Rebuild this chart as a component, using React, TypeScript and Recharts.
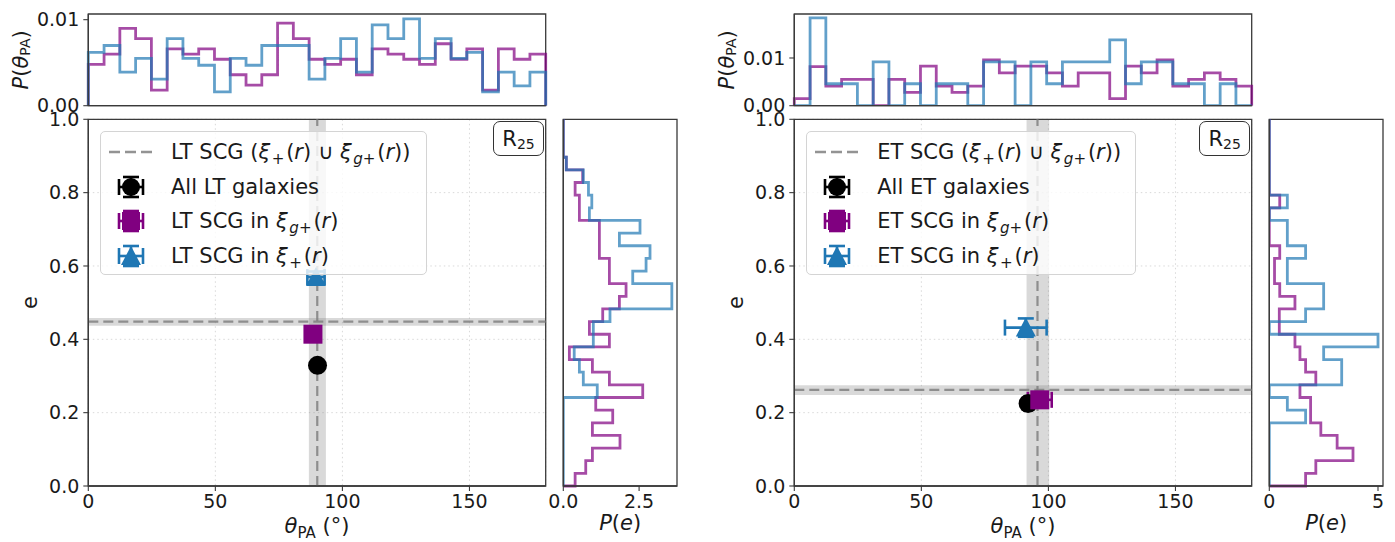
import React from 'react';
import {
  ScatterChart,
  Scatter,
  LineChart,
  Line,
  XAxis,
  YAxis,
  CartesianGrid,
  ReferenceLine,
  ReferenceArea,
  ErrorBar,
} from 'recharts';

// ---------------------------------------------------------------------------
// Data
// ---------------------------------------------------------------------------

// Position-angle histograms: 29 equal bins over [0, 180] deg, density P(theta_PA)
const thetaTicks = [0, 50, 100, 150];
const ltThetaGplus = [
  0.0048, 0.006, 0.009, 0.0078, 0.0018, 0.0066, 0.006, 0.0066, 0.0054, 0.0036,
  0.0024, 0.0036, 0.0096, 0.0078, 0.0054, 0.0048, 0.0054, 0.0036, 0.0066, 0.006,
  0.0054, 0.0048, 0.0072, 0.0054, 0.0066, 0.0018, 0.0066, 0.0054, 0.006,
];
const ltThetaPlus = [
  0.0062, 0.007, 0.0039, 0.0055, 0.0031, 0.0078, 0.0055, 0.0047, 0.0016, 0.0055,
  0.0047, 0.007, 0.007, 0.007, 0.0031, 0.0055, 0.0078, 0.0039, 0.0094, 0.0078,
  0.0101, 0.0055, 0.0078, 0.0055, 0.0062, 0.0016, 0.0039, 0.0023, 0.0039,
];
const etThetaGplus = [
  0.0015, 0.0082, 0.0041, 0.0055, 0.0055, 0.0, 0.0055, 0.0028, 0.0083, 0.0041,
  0.0028, 0.0041, 0.0096, 0.0069, 0.0083, 0.0083, 0.0069, 0.0041, 0.0069, 0.0069,
  0.0015, 0.0083, 0.0069, 0.0096, 0.0041, 0.0055, 0.0069, 0.0055, 0.0041,
];
const etThetaPlus = [
  0.0, 0.0184, 0.0046, 0.0046, 0.0, 0.0092, 0.0, 0.0046, 0.0, 0.0046,
  0.0046, 0.0, 0.0092, 0.0092, 0.0, 0.0092, 0.0046, 0.0092, 0.0092, 0.0092,
  0.0138, 0.0046, 0.0092, 0.0092, 0.0046, 0.0046, 0.0, 0.0046, 0.0,
];

// Ellipticity histograms: 29 equal bins over [0, 1], density P(e), lowest bin first
const eTicks = [0, 0.2, 0.4, 0.6, 0.8, 1.0];
const ltEGplus = [
  0.39, 0.74, 0.96, 1.87, 0.96, 1.63, 1.07, 2.62, 1.52, 0.96,
  0.2, 1.52, 0.86, 1.3, 1.85, 2.07, 1.52, 1.52, 1.19, 1.19,
  1.19, 0.53, 0.53, 0.39, 0.64, 0.1, 0, 0, 0,
];
const ltEPlus = [
  0, 0, 0, 0, 0, 0, 0, 1.12, 0.66, 0.53,
  0.36, 0.99, 0.99, 1.54, 3.58, 3.58, 2.29, 2.73, 2.86, 1.85,
  2.53, 0.86, 0.94, 0.83, 0.66, 0.1, 0, 0, 0,
];
const etEGplus = [
  1.67, 2.14, 3.85, 3.12, 2.37, 1.9, 1.9, 1.41, 2.14, 1.67,
  1.41, 1.18, 0.46, 0.46, 1.18, 0.48, 0.24, 0.24, 0.48, 0,
  0, 0, 0.48, 0, 0, 0, 0, 0, 0,
];
const etEPlus = [
  0, 0, 0, 0, 0, 1.67, 0.83, 0, 3.33, 3.33,
  2.5, 5.0, 0, 1.67, 2.5, 2.5, 0.83, 0.83, 1.67, 0.83,
  0.83, 0, 0.83, 0, 0, 0, 0, 0, 0,
];

// Mean orientation / ellipticity with uncertainties
const ltAll = [{ theta: 90.2, e: 0.329, dTheta: 1.2, dE: 0.006 }];
const ltGplus = [{ theta: 88.4, e: 0.414, dTheta: 2.5, dE: 0.012 }];
const ltPlus = [{ theta: 89.6, e: 0.57, dTheta: 3.4, dE: 0.015 }];
const etAll = [{ theta: 92.0, e: 0.225, dTheta: 1.5, dE: 0.006 }];
const etGplus = [{ theta: 96.6, e: 0.235, dTheta: 4.7, dE: 0.012 }];
const etPlus = [{ theta: 91.1, e: 0.432, dTheta: 8.2, dE: 0.025 }];

// Combined SCG sample (xi_+ U xi_g+): mean and 1-sigma band
const ltUnion = { theta: 90.1, thetaLo: 86.8, thetaHi: 93.5, e: 0.448, eLo: 0.437, eHi: 0.458 };
const etUnion = { theta: 95.7, thetaLo: 91.4, thetaHi: 100.3, e: 0.262, eLo: 0.248, eHi: 0.275 };

// ---------------------------------------------------------------------------
// Styling
// ---------------------------------------------------------------------------
const FONT = '"DejaVu Sans", Verdana, sans-serif';
const INK = '#1a1a1a';
const SPINE = '#3a3a3a';
const PURPLE = '#800080';
const BLUE = '#1f77b4';
const GRAY = '#808080';
const tickStyle = { fill: INK, fontSize: 19, fontFamily: FONT };
const axisLine = { stroke: SPINE, strokeWidth: 1.3 };
const tickLine = { stroke: SPINE, strokeWidth: 1.1 };

// Step outline of a theta histogram (bins along x)
function thetaOutline(a: number[], b: number[]) {
  const w = 180 / a.length;
  const pts: { x: number; a: number; b: number }[] = [{ x: 0, a: 0, b: 0 }];
  a.forEach((_, i) => {
    pts.push({ x: i * w, a: a[i], b: b[i] });
    pts.push({ x: (i + 1) * w, a: a[i], b: b[i] });
  });
  pts.push({ x: 180, a: 0, b: 0 });
  return pts;
}

// Step outline of an ellipticity histogram (bins along y)
function eOutline(a: number[], b: number[]) {
  const w = 1 / a.length;
  const pts: { e: number; a: number; b: number }[] = [{ e: 0, a: 0, b: 0 }];
  a.forEach((_, i) => {
    pts.push({ e: i * w, a: a[i], b: b[i] });
    pts.push({ e: (i + 1) * w, a: a[i], b: b[i] });
  });
  pts.push({ e: 1, a: 0, b: 0 });
  return pts;
}

// ---------------------------------------------------------------------------
// Axis labels
// ---------------------------------------------------------------------------
const ThetaLabel = (props: any) => {
  const vb = props.viewBox;
  const x = vb.x + vb.width / 2;
  const y = vb.y + 47;
  return (
    <text x={x} y={y} textAnchor="middle" fontSize={21} fontFamily={FONT} fill={INK}>
      <tspan fontStyle="italic">θ</tspan>
      <tspan fontSize={15} dy={5}>PA</tspan>
      <tspan dy={-5}>{'\u00a0(°)'}</tspan>
    </text>
  );
};

const ELabel = (props: any) => {
  const vb = props.viewBox;
  const x = vb.x + 30;
  const y = vb.y + vb.height / 2;
  return (
    <text
      x={x}
      y={y}
      transform={`rotate(-90 ${x} ${y})`}
      textAnchor="middle"
      dominantBaseline="central"
      fontSize={21}
      fontFamily={FONT}
      fill={INK}
    >
      e
    </text>
  );
};

const PThetaLabel = (props: any) => {
  const vb = props.viewBox;
  const x = vb.x + 21;
  const y = vb.y + vb.height / 2;
  return (
    <text
      x={x}
      y={y}
      transform={`rotate(-90 ${x} ${y})`}
      textAnchor="middle"
      dominantBaseline="central"
      fontSize={21}
      fontFamily={FONT}
      fill={INK}
    >
      <tspan fontStyle="italic">P</tspan>
      <tspan>(</tspan>
      <tspan fontStyle="italic">θ</tspan>
      <tspan fontSize={14} dy={4}>PA</tspan>
      <tspan dy={-4}>)</tspan>
    </text>
  );
};

const PELabel = (props: any) => {
  const vb = props.viewBox;
  const x = vb.x + vb.width / 2;
  const y = vb.y + 44;
  return (
    <text x={x} y={y} textAnchor="middle" fontSize={21} fontFamily={FONT} fill={INK}>
      <tspan fontStyle="italic">P</tspan>
      <tspan>(</tspan>
      <tspan fontStyle="italic">e</tspan>
      <tspan>)</tspan>
    </text>
  );
};

// ---------------------------------------------------------------------------
// Markers
// ---------------------------------------------------------------------------
const CircleMark = (p: any) => <circle cx={p.cx} cy={p.cy} r={9.5} fill="#000" />;
const SquareMark = (p: any) => (
  <rect x={p.cx - 9.5} y={p.cy - 9.5} width={19} height={19} fill={PURPLE} />
);
const TriangleMark = (p: any) => (
  <polygon
    points={`${p.cx},${p.cy - 10} ${p.cx + 10},${p.cy + 9} ${p.cx - 10},${p.cy + 9}`}
    fill={BLUE}
  />
);

// ---------------------------------------------------------------------------
// Panels
// ---------------------------------------------------------------------------
type Union = typeof ltUnion;
type Pt = { theta: number; e: number; dTheta: number; dE: number };

function MainPanel({ x0, all, gplus, plus, union }: { x0: number; all: Pt[]; gplus: Pt[]; plus: Pt[]; union: Union }) {
  // ErrorBar "width" is the half-length of each cap
  const errProps = { width: 8, strokeWidth: 2.6 };
  return (
    <div style={{ position: 'absolute', left: x0, top: 110 }}>
      <ScatterChart width={560} height={432} margin={{ top: 9.3, right: 14.3, bottom: 0, left: 0 }}>
        <CartesianGrid stroke="#d9d9d9" strokeDasharray="1.5 3" />
        <XAxis
          type="number"
          dataKey="theta"
          domain={[0, 180]}
          ticks={thetaTicks}
          interval={0}
          height={56}
          tick={tickStyle}
          tickSize={5}
          tickMargin={4}
          axisLine={axisLine}
          tickLine={tickLine}
          label={{ content: ThetaLabel }}
        />
        <YAxis
          type="number"
          dataKey="e"
          domain={[0, 1]}
          ticks={eTicks}
          interval={0}
          width={88.3}
          tick={tickStyle}
          tickSize={5}
          tickMargin={4}
          tickFormatter={(v: number) => v.toFixed(1)}
          axisLine={axisLine}
          tickLine={tickLine}
          label={{ content: ELabel }}
        />
        <ReferenceArea x1={union.thetaLo} x2={union.thetaHi} fill={GRAY} fillOpacity={0.3} stroke="none" />
        <ReferenceArea y1={union.eLo} y2={union.eHi} fill={GRAY} fillOpacity={0.3} stroke="none" />
        <ReferenceLine x={union.theta} stroke={GRAY} strokeOpacity={0.85} strokeWidth={2.2} strokeDasharray="10 5" />
        <ReferenceLine y={union.e} stroke={GRAY} strokeOpacity={0.85} strokeWidth={2.2} strokeDasharray="10 5" />
        <Scatter data={all} shape={CircleMark} isAnimationActive={false}>
          <ErrorBar dataKey="dTheta" direction="x" stroke="#000" {...errProps} />
          <ErrorBar dataKey="dE" direction="y" stroke="#000" {...errProps} />
        </Scatter>
        <Scatter data={gplus} shape={SquareMark} isAnimationActive={false}>
          <ErrorBar dataKey="dTheta" direction="x" stroke={PURPLE} {...errProps} />
          <ErrorBar dataKey="dE" direction="y" stroke={PURPLE} {...errProps} />
        </Scatter>
        <Scatter data={plus} shape={TriangleMark} isAnimationActive={false}>
          <ErrorBar dataKey="dTheta" direction="x" stroke={BLUE} {...errProps} />
          <ErrorBar dataKey="dE" direction="y" stroke={BLUE} {...errProps} />
        </Scatter>
        <ReferenceArea x1={0} x2={180} y1={0} y2={1} fill="none" stroke={SPINE} strokeWidth={1.3} />
      </ScatterChart>
    </div>
  );
}

function ThetaHist({ x0, gplus, plus, yMax }: { x0: number; gplus: number[]; plus: number[]; yMax: number }) {
  const data = thetaOutline(gplus, plus);
  return (
    <div style={{ position: 'absolute', left: x0, top: 0 }}>
      <LineChart width={560} height={110} data={data} margin={{ top: 14, right: 14.3, bottom: 0, left: 0 }}>
        <XAxis
          type="number"
          dataKey="x"
          domain={[0, 180]}
          ticks={thetaTicks}
          interval={0}
          height={4.3}
          tick={false}
          tickSize={5}
          axisLine={axisLine}
          tickLine={tickLine}
        />
        <YAxis
          type="number"
          domain={[0, yMax]}
          ticks={[0, 0.01]}
          interval={0}
          width={88.3}
          tick={tickStyle}
          tickSize={5}
          tickMargin={4}
          tickFormatter={(v: number) => v.toFixed(2)}
          axisLine={axisLine}
          tickLine={tickLine}
          allowDataOverflow
          label={{ content: PThetaLabel }}
        />
        <Line type="linear" dataKey="a" stroke={PURPLE} strokeOpacity={0.7} strokeWidth={2.8} dot={false} isAnimationActive={false} />
        <Line type="linear" dataKey="b" stroke={BLUE} strokeOpacity={0.7} strokeWidth={2.8} dot={false} isAnimationActive={false} />
        <ReferenceArea x1={0} x2={180} y1={0} y2={yMax} fill="none" stroke={SPINE} strokeWidth={1.3} />
      </LineChart>
    </div>
  );
}

function EHist({ x0, gplus, plus, xMax, ticks, fmt }: { x0: number; gplus: number[]; plus: number[]; xMax: number; ticks: number[]; fmt: (v: number) => string }) {
  const data = eOutline(gplus, plus);
  return (
    <div style={{ position: 'absolute', left: x0, top: 110 }}>
      <LineChart layout="vertical" width={142} height={432} data={data} margin={{ top: 9.3, right: 18, bottom: 0, left: 0 }}>
        <XAxis
          type="number"
          domain={[0, xMax]}
          ticks={ticks}
          interval={0}
          height={56}
          tick={tickStyle}
          tickSize={5}
          tickMargin={4}
          tickFormatter={fmt}
          axisLine={axisLine}
          tickLine={tickLine}
          allowDataOverflow
          label={{ content: PELabel }}
        />
        <YAxis
          type="number"
          dataKey="e"
          domain={[0, 1]}
          ticks={eTicks}
          interval={0}
          reversed
          width={10.3}
          tick={false}
          tickSize={5}
          axisLine={axisLine}
          tickLine={tickLine}
        />
        <Line type="linear" dataKey="a" stroke={PURPLE} strokeOpacity={0.7} strokeWidth={2.8} dot={false} isAnimationActive={false} />
        <Line type="linear" dataKey="b" stroke={BLUE} strokeOpacity={0.7} strokeWidth={2.8} dot={false} isAnimationActive={false} />
        <ReferenceArea x1={0} x2={xMax} y1={0} y2={1} fill="none" stroke={SPINE} strokeWidth={1.3} />
      </LineChart>
    </div>
  );
}

// ---------------------------------------------------------------------------
// Legend and annotation
// ---------------------------------------------------------------------------
const Sub = ({ children }: { children: React.ReactNode }) => (
  <span style={{ fontSize: '0.72em', position: 'relative', top: '0.34em', margin: '0 0.12em 0 0.1em' }}>
    {children}
  </span>
);
const XiPlus = () => (
  <>
    <i>ξ</i>
    <Sub>+</Sub>(<i>r</i>)
  </>
);
const XiGPlus = () => (
  <>
    <i>ξ</i>
    <Sub>
      <i>g</i>+
    </Sub>
    (<i>r</i>)
  </>
);

function DashHandle() {
  return (
    <svg width={44} height={30}>
      <line x1={0} y1={15} x2={44} y2={15} stroke={GRAY} strokeOpacity={0.85} strokeWidth={2.4} strokeDasharray="11 5" />
    </svg>
  );
}

function MarkerHandle({ color, kind }: { color: string; kind: 'circle' | 'square' | 'triangle' }) {
  const c = 22;
  return (
    <svg width={44} height={30}>
      <g stroke={color} strokeWidth={2.6}>
        <line x1={c - 12} y1={15} x2={c + 12} y2={15} />
        <line x1={c - 12} y1={7} x2={c - 12} y2={23} />
        <line x1={c + 12} y1={7} x2={c + 12} y2={23} />
        <line x1={c} y1={5} x2={c} y2={25} />
        <line x1={c - 8} y1={5} x2={c + 8} y2={5} />
        <line x1={c - 8} y1={25} x2={c + 8} y2={25} />
      </g>
      {kind === 'circle' && <circle cx={c} cy={15} r={9} fill={color} />}
      {kind === 'square' && <rect x={c - 9} y={6} width={18} height={18} fill={color} />}
      {kind === 'triangle' && <polygon points={`${c},5 ${c + 10},24 ${c - 10},24`} fill={color} />}
    </svg>
  );
}

function LegendBox({ left, width, sample }: { left: number; width: number; sample: string }) {
  const rows: [React.ReactNode, React.ReactNode][] = [
    [<DashHandle />, <>{sample} SCG (<XiPlus /> ∪ <XiGPlus />)</>],
    [<MarkerHandle color="#000" kind="circle" />, <>All {sample} galaxies</>],
    [<MarkerHandle color={PURPLE} kind="square" />, <>{sample} SCG in <XiGPlus /></>],
    [<MarkerHandle color={BLUE} kind="triangle" />, <>{sample} SCG in <XiPlus /></>],
  ];
  return (
    <div
      style={{
        position: 'absolute',
        left,
        top: 131,
        width,
        height: 144,
        boxSizing: 'border-box',
        padding: '3px 0 3px 8px',
        border: '1px solid #d4d4d4',
        borderRadius: 5,
        background: 'rgba(255,255,255,0.8)',
        fontFamily: FONT,
        fontSize: 21,
        color: INK,
      }}
    >
      {rows.map(([h, t], i) => (
        <div key={i} style={{ display: 'flex', alignItems: 'center', height: 34.5, whiteSpace: 'nowrap' }}>
          <div style={{ width: 44, height: 30, marginRight: 18 }}>{h}</div>
          <div>{t}</div>
        </div>
      ))}
    </div>
  );
}

function RadiusTag({ left }: { left: number }) {
  return (
    <div
      style={{
        position: 'absolute',
        left,
        top: 121,
        width: 51,
        height: 35,
        boxSizing: 'border-box',
        border: '1.3px solid #333',
        borderRadius: 7,
        background: '#fff',
        display: 'flex',
        alignItems: 'center',
        justifyContent: 'center',
        fontFamily: FONT,
        fontSize: 21,
        color: INK,
      }}
    >
      R<span style={{ fontSize: 14, position: 'relative', top: 5 }}>25</span>
    </div>
  );
}

// ---------------------------------------------------------------------------
const SHIFT = 706.2;

export default function App() {
  return (
    <div
      style={{
        position: 'absolute',
        left: 0,
        top: 0,
        width: 1395,
        height: 542,
        background: '#fff',
        fontFamily: FONT,
      }}
    >
      <style>{'.recharts-surface{overflow:visible}'}</style>

      <ThetaHist x0={0} gplus={ltThetaGplus} plus={ltThetaPlus} yMax={0.01066} />
      <MainPanel x0={0} all={ltAll} gplus={ltGplus} plus={ltPlus} union={ltUnion} />
      <EHist x0={553} gplus={ltEGplus} plus={ltEPlus} xMax={3.75} ticks={[0, 2.5]} fmt={(v) => v.toFixed(1)} />
      <LegendBox left={100} width={327} sample="LT" />
      <RadiusTag left={493} />

      <ThetaHist x0={SHIFT} gplus={etThetaGplus} plus={etThetaPlus} yMax={0.01922} />
      <MainPanel x0={SHIFT} all={etAll} gplus={etGplus} plus={etPlus} union={etUnion} />
      <EHist x0={553 + SHIFT} gplus={etEGplus} plus={etEPlus} xMax={5.23} ticks={[0, 5]} fmt={(v) => String(v)} />
      <LegendBox left={100 + SHIFT} width={330} sample="ET" />
      <RadiusTag left={493 + SHIFT} />
    </div>
  );
}
